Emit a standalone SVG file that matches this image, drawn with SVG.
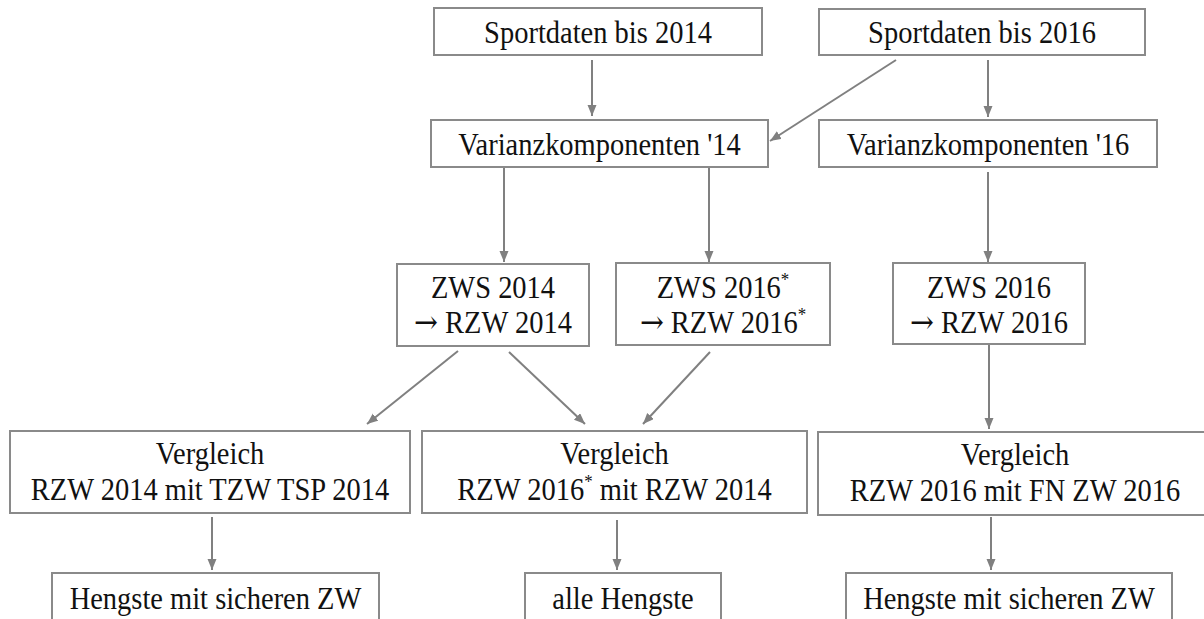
<svg xmlns="http://www.w3.org/2000/svg" width="1204" height="619" viewBox="0 0 1204 619">
<style>
.box{fill:#ffffff;stroke:#8a8a8a;stroke-width:2}
.t{font-family:"Liberation Serif","Times New Roman",serif;font-size:32px;fill:#111;text-anchor:middle}
.sup{font-size:19px}
.ar{font-family:"DejaVu Serif","Liberation Serif",serif}
.c{stroke:#808080;stroke-width:2;fill:none}
</style>
<defs>
<marker id="ah" markerUnits="userSpaceOnUse" markerWidth="12" markerHeight="10" refX="11" refY="4.5" orient="auto">
<path d="M0,0 L11,4.5 L0,9 z" fill="#808080"/>
</marker>
</defs>
<rect width="1204" height="619" fill="#ffffff"/>
<g id="connectors">
<line class="c" x1="592" y1="60" x2="592" y2="116" marker-end="url(#ah)"/>
<line class="c" x1="896" y1="60" x2="770" y2="141" marker-end="url(#ah)"/>
<line class="c" x1="988" y1="60" x2="988" y2="117" marker-end="url(#ah)"/>
<line class="c" x1="504" y1="168" x2="504" y2="262" marker-end="url(#ah)"/>
<line class="c" x1="709" y1="168" x2="709" y2="262" marker-end="url(#ah)"/>
<line class="c" x1="988" y1="172" x2="988" y2="262" marker-end="url(#ah)"/>
<line class="c" x1="458" y1="351" x2="367" y2="424" marker-end="url(#ah)"/>
<line class="c" x1="509" y1="352" x2="585" y2="424" marker-end="url(#ah)"/>
<line class="c" x1="710" y1="352" x2="643" y2="424" marker-end="url(#ah)"/>
<line class="c" x1="989" y1="345" x2="989" y2="429" marker-end="url(#ah)"/>
<line class="c" x1="212" y1="517" x2="212" y2="570" marker-end="url(#ah)"/>
<line class="c" x1="617" y1="520" x2="617" y2="570" marker-end="url(#ah)"/>
<line class="c" x1="991" y1="517" x2="991" y2="570" marker-end="url(#ah)"/>
</g>
<g id="sport2014">
<rect class="box" x="434" y="8" width="328" height="47"/>
<text class="t" transform="translate(598,43) scale(0.89,1)">Sportdaten bis 2014</text>
</g>
<g id="sport2016">
<rect class="box" x="819" y="9" width="326" height="46"/>
<text class="t" transform="translate(982,43) scale(0.89,1)">Sportdaten bis 2016</text>
</g>
<g id="varianz14">
<rect class="box" x="431" y="120" width="337" height="47"/>
<text class="t" transform="translate(599.5,155) scale(0.89,1)">Varianzkomponenten '14</text>
</g>
<g id="varianz16">
<rect class="box" x="819" y="120" width="338" height="47"/>
<text class="t" transform="translate(988,155) scale(0.89,1)">Varianzkomponenten '16</text>
</g>
<g id="zws2014">
<rect class="box" x="397" y="264" width="192" height="82"/>
<text class="t" transform="translate(493,298) scale(0.89,1)">ZWS 2014</text>
<text class="t" transform="translate(493,333) scale(0.89,1)"><tspan class="ar">→</tspan> RZW 2014</text>
</g>
<g id="zws2016star">
<rect class="box" x="616" y="263" width="214" height="82"/>
<text class="t" transform="translate(723,298) scale(0.89,1)">ZWS 2016<tspan class="sup" dy="-12">*</tspan></text>
<text class="t" transform="translate(723,333) scale(0.89,1)"><tspan class="ar">→</tspan> RZW 2016<tspan class="sup" dy="-12">*</tspan></text>
</g>
<g id="zws2016">
<rect class="box" x="893" y="263" width="192" height="81"/>
<text class="t" transform="translate(989,298) scale(0.89,1)">ZWS 2016</text>
<text class="t" transform="translate(989,333) scale(0.89,1)"><tspan class="ar">→</tspan> RZW 2016</text>
</g>
<g id="vergleich1">
<rect class="box" x="10" y="431" width="400" height="82"/>
<text class="t" transform="translate(210,464) scale(0.89,1)">Vergleich</text>
<text class="t" transform="translate(210,500) scale(0.89,1)">RZW 2014 mit TZW TSP 2014</text>
</g>
<g id="vergleich2">
<rect class="box" x="422" y="431" width="385" height="82"/>
<text class="t" transform="translate(614.5,464) scale(0.89,1)">Vergleich</text>
<text class="t" transform="translate(614.5,500) scale(0.89,1)">RZW 2016<tspan class="sup" dy="-12">*</tspan><tspan dy="12"> mit RZW 2014</tspan></text>
</g>
<g id="vergleich3">
<rect class="box" x="818" y="432" width="396" height="83"/>
<text class="t" transform="translate(1015,465) scale(0.89,1)">Vergleich</text>
<text class="t" transform="translate(1015,501) scale(0.89,1)">RZW 2016 mit FN ZW 2016</text>
</g>
<g id="hengste1">
<rect class="box" x="52" y="573" width="327" height="80"/>
<text class="t" transform="translate(215.5,609) scale(0.89,1)">Hengste mit sicheren ZW</text>
</g>
<g id="hengste2">
<rect class="box" x="525" y="573" width="196" height="80"/>
<text class="t" transform="translate(623,609) scale(0.89,1)">alle Hengste</text>
</g>
<g id="hengste3">
<rect class="box" x="846" y="573" width="326" height="80"/>
<text class="t" transform="translate(1009,609) scale(0.89,1)">Hengste mit sicheren ZW</text>
</g>
</svg>
